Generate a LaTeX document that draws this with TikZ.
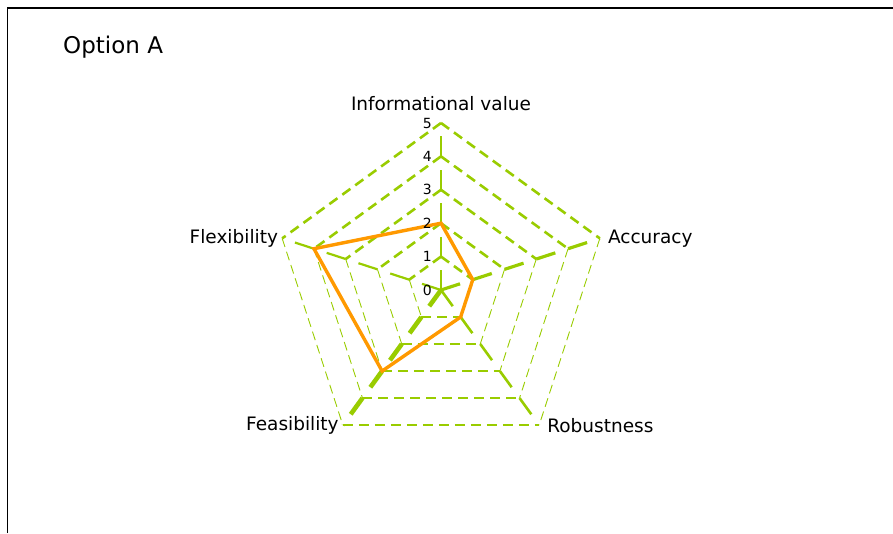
\documentclass[tikz,border=0pt]{standalone}
\usepackage{fontspec}
\setmainfont{DejaVu Sans}
\usepackage{tikz}
\usetikzlibrary{positioning}
\definecolor{radargreen}{RGB}{153,204,0}
\definecolor{radarorange}{RGB}{255,153,0}
\tikzset{x=1pt, y=1pt,
gridthick/.style={radargreen, line width=2.6pt, dash pattern=on 10pt off 6pt},
gridmid/.style={radargreen, line width=1.8pt, dash pattern=on 10pt off 6pt},
gridthin/.style={radargreen, line width=0.9pt, dash pattern=on 9pt off 5pt},
spoke/.style={radargreen, dash pattern=on 20pt off 13.4pt},
datapoly/.style={radarorange, line width=3.4pt, line join=miter},
axislabel/.style={inner sep=2pt, font=\fontsize{18.5}{22}\selectfont},
ticklabel/.style={inner sep=2pt, font=\fontsize{14}{16}\selectfont},
titlelabel/.style={inner sep=2pt, anchor=west, font=\fontsize{23}{27}\selectfont},
frameline/.style={black, line width=1.8pt}}

\begin{document}
\begin{tikzpicture}
    \useasboundingbox (0,0) rectangle (893,533);
    \draw[frameline] (7.5,0) -- (7.5,525) -- (893,525);

    % Axis points
    \coordinate (ctr) at (441,243);
    \foreach \ax/\ang in {info/90, acc/18, rob/-54, fea/-126, flex/162}
      \foreach \l in {0,...,5}
        \coordinate (\ax\l) at ([shift={(\ang:\l*33.4)}]ctr);

    % Grid
    \foreach \l in {1,...,5} {
      \draw[gridthick] (info\l) -- (flex\l);
      \draw[gridthick] (info\l) -- (acc\l);
      \draw[gridthin] (flex\l) -- (fea\l);
      \draw[gridthin] (acc\l) -- (rob\l);
      \draw[gridmid] (fea\l) -- (rob\l);
    }
    \draw[spoke, line width=2.8pt] (ctr) -- (info5);
    \draw[spoke, line width=3.2pt] (ctr) -- (acc5);
    \draw[spoke, line width=2.6pt] (ctr) -- (rob5);
    \draw[spoke, line width=4.6pt] (ctr) -- (fea5);
    \draw[spoke, line width=2.2pt] (ctr) -- (flex5);

    % Data
    \draw[datapoly] (info2) -- (acc1) -- (rob1) -- (fea3) -- (flex4) -- cycle;

    % Labels
    \node[titlelabel] (title) at (61,486) {Option A};
    \node[axislabel, above=10pt of info5] (lblinfo) {Informational value};
    \node[axislabel, right=6pt of acc5] (lblacc) {Accuracy};
    \node[axislabel, right=6pt of rob5] (lblrob) {Robustness};
    \node[axislabel, left=2pt of fea5] (lblfea) {Feasibility};
    \node[axislabel, left=2pt of flex5] (lblflex) {Flexibility};
    \foreach \l in {0,...,5}
      \node[ticklabel, left=7pt of info\l] (tick\l) {\l};
\end{tikzpicture}
\end{document}
